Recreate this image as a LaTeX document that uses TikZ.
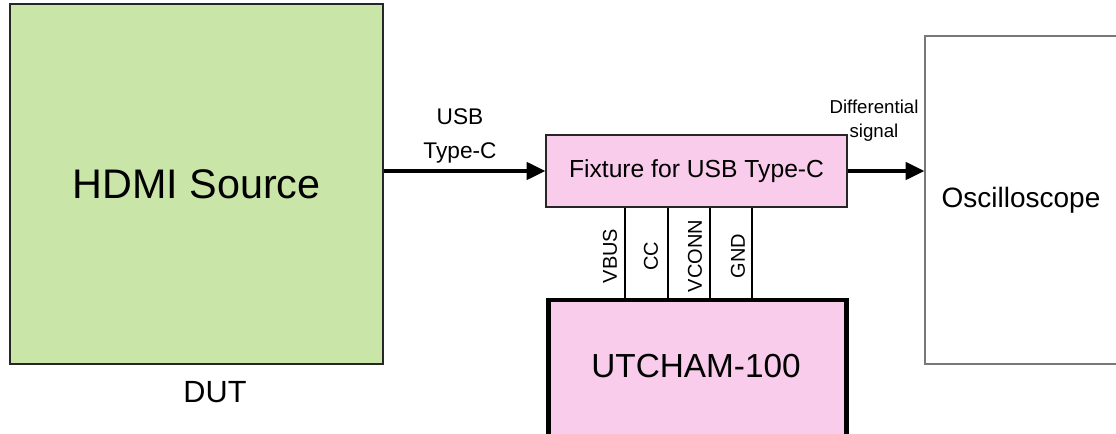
\documentclass[tikz,border=0pt]{standalone}
\usepackage{fontspec}
\setmainfont{Liberation Sans}
\usetikzlibrary{arrows.meta}
\definecolor{dutgreen}{RGB}{201,230,168}
\definecolor{fixpink}{RGB}{248,204,234}
\definecolor{oscgray}{RGB}{120,120,120}
\begin{document}
\begin{tikzpicture}[x=0.75pt,y=-0.75pt,
  box/.style={draw=black!85,line width=1pt,inner sep=0pt,rectangle},
  conn/.style={line width=2.5pt,-{Triangle[length=14pt,width=13pt]}},
  wire/.style={line width=1.8pt},
  lbl/.style={inner sep=0pt,align=center}]
\useasboundingbox (0,0) rectangle (1116,434);
\clip (0,0) rectangle (1116,434);
% boxes
\node[box,fill=dutgreen,minimum width=279.75pt,minimum height=270pt] (hdmi) at (196.5,184) {};
\node[lbl,font=\fontsize{31}{36}\selectfont] (hdmitxt) at (196.5,184) {HDMI Source};
\node[lbl,font=\fontsize{23}{27}\selectfont] (dut) at (215,392) {DUT};
\node[box,fill=fixpink,minimum width=225.75pt,minimum height=54pt] (fix) at (696.5,171) {};
\node[lbl,font=\fontsize{18.5}{22}\selectfont] (fixtxt) at (696.5,171) {Fixture for USB Type-C};
\node[draw=black,line width=3.6pt,fill=fixpink,inner sep=0pt,minimum width=223.5pt,minimum height=127.5pt] (utbox) at (697.5,385) {};
\node[lbl,font=\fontsize{25}{30}\selectfont] (ut) at (696,366) {UTCHAM-100};
\node[draw=oscgray,line width=1pt,inner sep=0pt,minimum width=172.5pt,minimum height=246pt] (osc) at (1040,200) {};
\node[lbl,font=\fontsize{21}{25}\selectfont] (osctxt) at (1021,200) {Oscilloscope};
% connectors
\draw[conn] (hdmi.east |- fix.west) -- (fix.west);
\draw[conn] (fix.east) -- (osc.west |- fix.east);
\node[lbl,font=\fontsize{17}{22}\selectfont] (usb) at (460,136) {USB\\[3pt]Type-C};
\node[lbl,font=\fontsize{14}{18}\selectfont] (diff) at (874,121) {Differential\\signal};
% wires
\coordinate (v1) at (625,0);
\coordinate (v2) at (668,0);
\coordinate (v3) at (710,0);
\coordinate (v4) at (752,0);
\foreach \v in {v1,v2,v3,v4}
  \draw[wire] (fix.south -| \v) -- (utbox.north -| \v);
\node[lbl,rotate=90,font=\fontsize{15}{18}\selectfont] (vbus) at (610,256) {VBUS};
\node[lbl,rotate=90,font=\fontsize{15}{18}\selectfont] (cc) at (651,256) {CC};
\node[lbl,rotate=90,font=\fontsize{15}{18}\selectfont] (vconn) at (695,256) {VCONN};
\node[lbl,rotate=90,font=\fontsize{15}{18}\selectfont] (gnd) at (738,256) {GND};
\end{tikzpicture}
\end{document}
